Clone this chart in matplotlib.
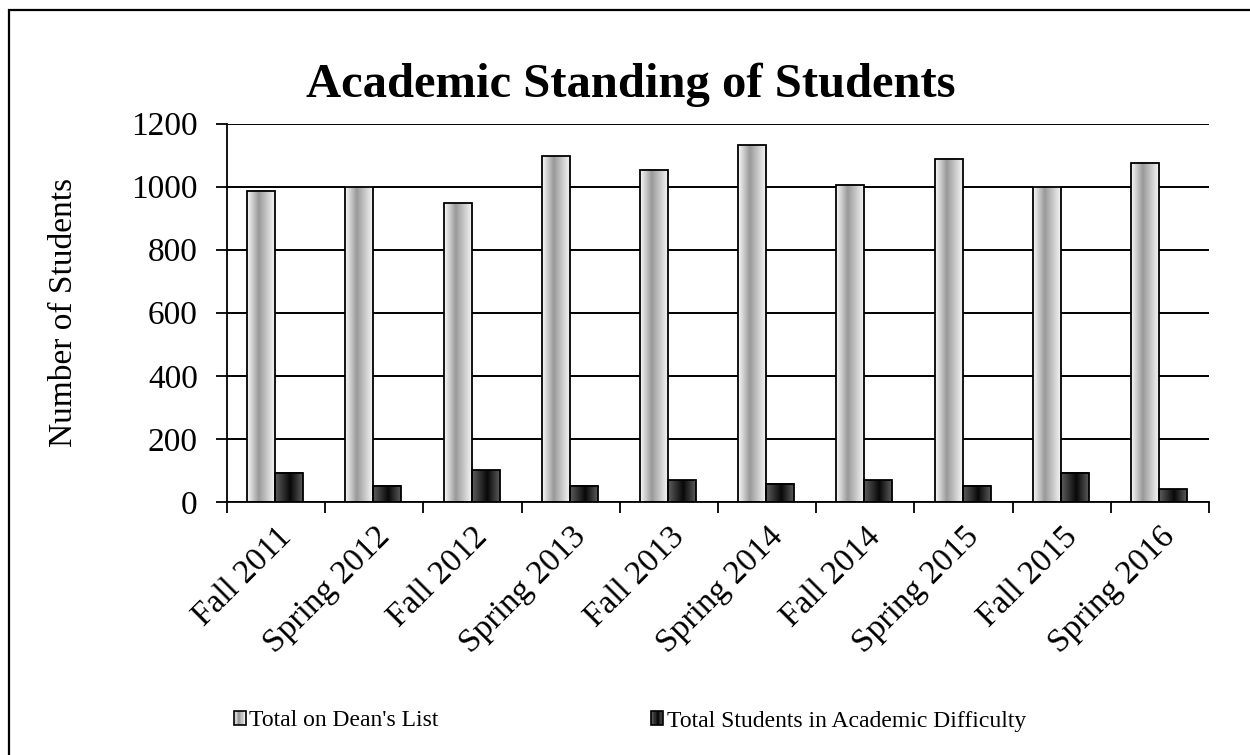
import numpy as np
import matplotlib
matplotlib.use("Agg")
from matplotlib import pyplot as plt
from matplotlib.colors import LinearSegmentedColormap
from matplotlib.patches import Rectangle
from matplotlib.legend_handler import HandlerBase

plt.rcParams['font.family'] = ['Liberation Serif', 'DejaVu Serif']

# Data
terms = ['Fall 2011', 'Spring 2012', 'Fall 2012', 'Spring 2013', 'Fall 2013',
         'Spring 2014', 'Fall 2014', 'Spring 2015', 'Fall 2015', 'Spring 2016']
deans_list = [987, 1000, 947, 1096, 1053, 1131, 1006, 1089, 1000, 1076]
difficulty = [93, 52, 100, 52, 69, 58, 69, 52, 93, 40]

light_cmap = LinearSegmentedColormap.from_list(
    'light', [(0, '#fafafa'), (0.42, '#999999'), (1, '#f4f4f4')])
dark_cmap = LinearSegmentedColormap.from_list(
    'dark', [(0, '#5c5c5c'), (0.55, '#080808'), (1, '#5a5a5a')])

fig = plt.figure(figsize=(12.5, 7.55), dpi=100)
ax = fig.add_axes([227/1250, 1-502/755, 982/1250, 378.5/755])

x = np.arange(len(terms))
w = 0.285
b1 = ax.bar(x - 0.1525, deans_list, w, facecolor='none', edgecolor='black',
            linewidth=1.3, zorder=3, label="Total on Dean's List")
b2 = ax.bar(x + 0.1325, difficulty, w, facecolor='none', edgecolor='black',
            linewidth=1.3, zorder=3, label='Total Students in Academic Difficulty')

# cylinder-like shading inside each bar
grad = np.linspace(0, 1, 64)[np.newaxis, :]
for bars, cm in ((b1, light_cmap), (b2, dark_cmap)):
    for r in bars:
        x0 = r.get_x()
        ax.imshow(grad, extent=[x0, x0 + r.get_width(), 0, r.get_height()],
                  aspect='auto', cmap=cm, zorder=2, interpolation='bilinear')

ax.set_xlim(-0.5, len(terms) - 0.5)
ax.set_ylim(0, 1200)
ax.set_yticks(range(0, 1201, 200))
ax.yaxis.grid(True, color='black', linewidth=1.4, zorder=0)
ax.set_axisbelow(True)

for s in ('top', 'right'):
    ax.spines[s].set_visible(False)
for s in ('left', 'bottom'):
    ax.spines[s].set_linewidth(1.3)

ax.set_xticks(x)
ax.set_xticklabels(terms, rotation=45, ha='right', va='top', rotation_mode='anchor')
ax.set_xticks(np.arange(-0.5, len(terms)), minor=True)
ax.tick_params(axis='x', which='major', length=0, pad=14, labelsize=24)
ax.tick_params(axis='x', which='minor', length=8, width=1.3)
ax.tick_params(axis='y', length=8, width=1.3, pad=13, labelsize=24)

ax.set_ylabel('Number of Students', fontsize=24)
ax.yaxis.set_label_coords(-0.151, 0.5)

fig.text(631/1250, 1-97/755, 'Academic Standing of Students', ha='center',
         va='baseline', fontsize=35, fontweight='bold')


class GradientHandler(HandlerBase):
    def __init__(self, cmap):
        super().__init__()
        self.cmap = cmap

    def create_artists(self, legend, orig_handle, xdescent, ydescent, width,
                       height, fontsize, trans):
        n = 8
        arts = []
        for i in range(n):
            arts.append(Rectangle((-xdescent + width * i / n, -ydescent), width / n,
                                  height, facecolor=self.cmap((i + 0.5) / n),
                                  edgecolor='none', transform=trans))
        arts.append(Rectangle((-xdescent, -ydescent), width, height,
                              facecolor='none', edgecolor='black', linewidth=1.2,
                              transform=trans))
        return arts


fig.legend(handles=[b1, b2], loc='center left', bbox_to_anchor=(234/1250, 1-721/755),
           ncol=2, frameon=False, fontsize=17, handlelength=0.5, handleheight=0.55,
           handletextpad=0.15, columnspacing=9.0, borderpad=0, borderaxespad=0,
           handler_map={b1: GradientHandler(light_cmap), b2: GradientHandler(dark_cmap)})

# outer chart border (only top and left edges fall inside the picture)
fig.patches.append(Rectangle((8.5/1250, -0.1), 1.2, 1.1 - 9.5/755, fill=False,
                             edgecolor='black', linewidth=1.6,
                             transform=fig.transFigure, figure=fig))

fig.savefig('out.png', dpi=100)
